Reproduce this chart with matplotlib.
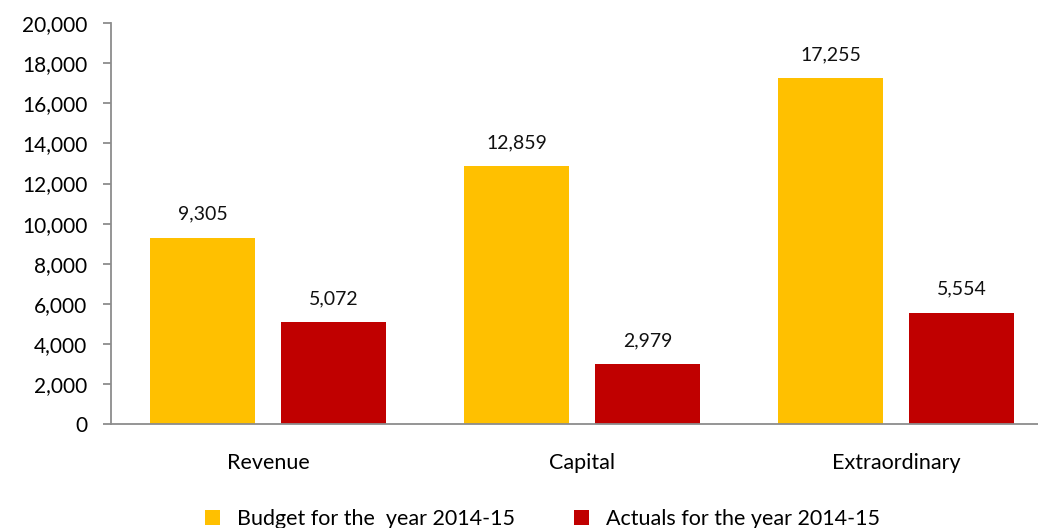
import numpy as np
import matplotlib.pyplot as plt
from matplotlib.ticker import FuncFormatter

categories = ['Revenue', 'Capital', 'Extraordinary']
budget = [9305, 12859, 17255]
actuals = [5072, 2979, 5554]
series_names = ['Budget for the  year 2014-15', 'Actuals for the year 2014-15']

plt.rcParams['font.family'] = ['Lato', 'DejaVu Sans']

fig = plt.figure(figsize=(10.38, 5.28), dpi=100)
ax = fig.add_axes([0.107, 0.197, 0.893, 0.759])

x = np.arange(len(categories))
w = 0.334
off = 0.2086
b1 = ax.bar(x - off, budget, w, color='#FFC000', label=series_names[0])
b2 = ax.bar(x + off, actuals, w, color='#C00000', label=series_names[1])

for bars, vals in ((b1, budget), (b2, actuals)):
    for r, v in zip(bars, vals):
        ax.annotate(f'{v:,}', (r.get_x() + r.get_width() / 2, v),
                    xytext=(0, 11), textcoords='offset points',
                    ha='center', va='bottom', fontsize=14, color='#111111')

ax.set_ylim(0, 20000)
ax.set_xlim(-0.5, 2.452)
ax.set_yticks(range(0, 20001, 2000))
ax.yaxis.set_major_formatter(FuncFormatter(lambda v, p: f'{int(v):,}'))
ax.set_xticks(x)
ax.set_xticklabels(categories)

for s in ('top', 'right'):
    ax.spines[s].set_visible(False)
for s in ('left', 'bottom'):
    ax.spines[s].set_color('#8c8c8c')
    ax.spines[s].set_linewidth(1.3)
ax.tick_params(axis='y', length=6, color='#8c8c8c', width=1.3, labelsize=15, pad=11)
ax.tick_params(axis='x', length=0, labelsize=15.5, pad=21)

ax.legend(loc='upper center', bbox_to_anchor=(0.519 - 0.107 / 2, -0.165), ncol=2,
          frameon=False, fontsize=15.5, handlelength=0.7, handleheight=0.7,
          columnspacing=2.7, handletextpad=0.8)

fig.savefig('out.png', dpi=100)
